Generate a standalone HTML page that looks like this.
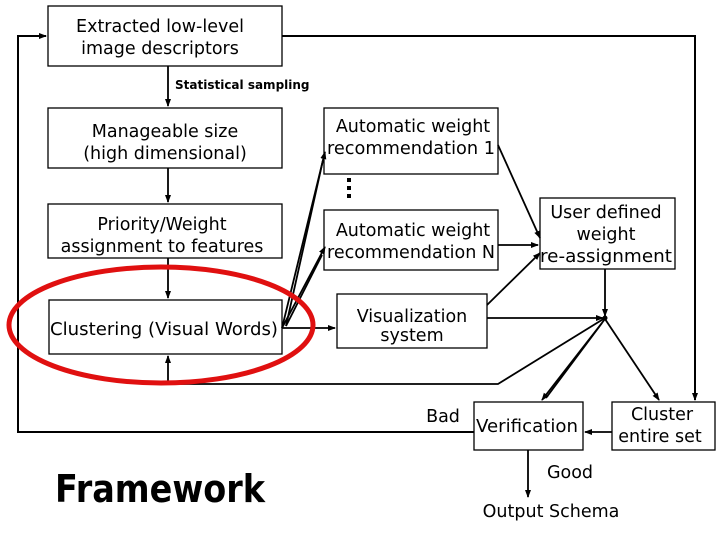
<!DOCTYPE html>
<html><head><meta charset="utf-8"><style>
html,body{margin:0;padding:0;background:#fff;}
svg{display:block;}
text{font-family:"DejaVu Sans","Liberation Sans",sans-serif;fill:#000;}
</style></head><body>
<svg width="720" height="540" viewBox="0 0 720 540" xmlns="http://www.w3.org/2000/svg">
<defs>
<marker id="a" markerWidth="8" markerHeight="8" refX="7" refY="4" orient="auto" markerUnits="userSpaceOnUse">
<path d="M0,1 L8,4 L0,7 Z" fill="#000"/></marker>
</defs>
<g fill="none" stroke="#000" stroke-width="1.3">
<rect x="48" y="6" width="234" height="60"/>
<rect x="48" y="108" width="234" height="60"/>
<rect x="48" y="204" width="234" height="54"/>
<rect x="49" y="300" width="233" height="54"/>
<rect x="324" y="108" width="174" height="66"/>
<rect x="324" y="210" width="174" height="60"/>
<rect x="337" y="294" width="150" height="54"/>
<rect x="540" y="198" width="135" height="71"/>
<rect x="474" y="402" width="109" height="48"/>
<rect x="612" y="402" width="103" height="48"/>
</g>
<g fill="none" stroke="#000" stroke-width="2">
<polyline points="474,432 18,432 18,36 46,36" marker-end="url(#a)"/>
<polyline points="282,36 695,36 695,400" marker-end="url(#a)"/>
</g>
<g fill="none" stroke="#000" stroke-width="1.8">
<line x1="168" y1="66" x2="168" y2="106" marker-end="url(#a)"/>
<line x1="168" y1="168" x2="168" y2="202" marker-end="url(#a)"/>
<line x1="168" y1="258" x2="168" y2="298" marker-end="url(#a)"/>
<polyline points="605,318 498,384 168,384 168,356" marker-end="url(#a)"/>
<line x1="282" y1="328" x2="325" y2="152" marker-end="url(#a)"/>
<line x1="286" y1="326" x2="323" y2="160"/>
<line x1="282" y1="328" x2="325" y2="247" marker-end="url(#a)"/>
<line x1="286" y1="326" x2="322" y2="255"/>
<line x1="282" y1="328" x2="335" y2="328" marker-end="url(#a)"/>
<line x1="498" y1="145" x2="540" y2="238" marker-end="url(#a)"/>
<line x1="498" y1="245" x2="538" y2="245" marker-end="url(#a)"/>
<line x1="487" y1="305" x2="540" y2="253" marker-end="url(#a)"/>
<line x1="605" y1="269" x2="605" y2="316" marker-end="url(#a)"/>
<line x1="487" y1="318" x2="603" y2="318" marker-end="url(#a)"/>
<line x1="605" y1="319" x2="542" y2="400" marker-end="url(#a)"/>
<line x1="602" y1="323" x2="546" y2="398"/>
<line x1="605" y1="319" x2="659" y2="400" marker-end="url(#a)"/>
<line x1="612" y1="432" x2="585" y2="432" marker-end="url(#a)"/>
<line x1="528" y1="450" x2="528" y2="497" marker-end="url(#a)"/>
</g>
<circle cx="605" cy="318" r="2.5" fill="#000"/>
<rect x="347" y="178" width="4" height="4" fill="#000"/>
<rect x="347" y="186" width="4" height="4" fill="#000"/>
<rect x="347" y="194" width="4" height="4" fill="#000"/>
<ellipse cx="161" cy="325" rx="152" ry="58" fill="none" stroke="#e01010" stroke-width="5"/>
<g font-size="17.5" text-anchor="middle">
<text x="160" y="32">Extracted low-level</text>
<text x="160" y="54">image descriptors</text>
<text x="165" y="137">Manageable size</text>
<text x="165" y="159">(high dimensional)</text>
<text x="162" y="230">Priority/Weight</text>
<text x="162" y="252">assignment to features</text>
<text x="164" y="335" textLength="228" lengthAdjust="spacingAndGlyphs">Clustering (Visual Words)</text>
<text x="413" y="132">Automatic weight</text>
<text x="411" y="154" textLength="168" lengthAdjust="spacingAndGlyphs">recommendation 1</text>
<text x="413" y="236">Automatic weight</text>
<text x="411" y="258" textLength="168" lengthAdjust="spacingAndGlyphs">recommendation N</text>
<text x="412" y="322">Visualization</text>
<text x="412" y="341">system</text>
<text x="606" y="218">User defined</text>
<text x="606" y="240">weight</text>
<text x="606" y="262" textLength="132" lengthAdjust="spacingAndGlyphs">re-assignment</text>
<text x="527" y="432" textLength="102" lengthAdjust="spacingAndGlyphs">Verification</text>
<text x="662" y="420">Cluster</text>
<text x="660" y="442">entire set</text>
<text x="443" y="422">Bad</text>
<text x="570" y="478">Good</text>
<text x="551" y="517">Output Schema</text>
</g>
<text x="175" y="89" font-size="12" font-weight="bold">Statistical sampling</text>
<text x="55" y="502" font-size="38" font-weight="bold" textLength="210" lengthAdjust="spacingAndGlyphs">Framework</text>
</svg>
</body></html>
